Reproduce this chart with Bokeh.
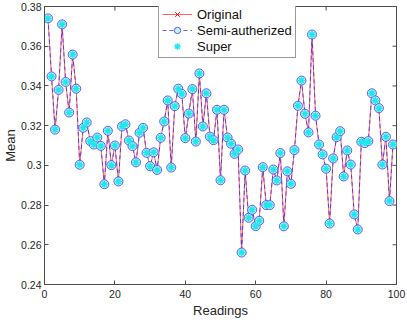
import math
from bokeh.plotting import figure
from bokeh.models import (FixedTicker, CustomJSTickFormatter, Legend, LegendItem, Range1d)
from bokeh.embed import file_html
from bokeh.resources import INLINE

readings = list(range(1, 100))

original = [0.374, 0.3448, 0.318, 0.338, 0.371, 0.342, 0.3266, 0.3558, 0.3386, 0.3003,
            0.3189, 0.3216, 0.3122, 0.3105, 0.3140, 0.3098, 0.2905, 0.3174, 0.3001, 0.3100,
            0.2919, 0.3196, 0.3207, 0.3125, 0.3097, 0.3015, 0.3164, 0.3189, 0.3063, 0.2996,
            0.3066, 0.2977, 0.3139, 0.3221, 0.3327, 0.2989, 0.3298, 0.3386, 0.3360, 0.3137,
            0.3261, 0.3384, 0.3120, 0.3463, 0.3196, 0.3363, 0.3145, 0.3127, 0.3280, 0.2925,
            0.3280, 0.3140, 0.3109, 0.3058, 0.3080, 0.2561, 0.2974, 0.2736, 0.2776, 0.2694,
            0.2721, 0.2991, 0.2800, 0.2800, 0.2979, 0.2924, 0.3062, 0.2693, 0.2970, 0.2907,
            0.3077, 0.3300, 0.3427, 0.3260, 0.3166, 0.3659, 0.3250, 0.3105, 0.3055, 0.2983,
            0.2707, 0.3035, 0.3142, 0.3172, 0.2944, 0.3075, 0.3004, 0.2753, 0.2677, 0.3119,
            0.3112, 0.3122, 0.3363, 0.3327, 0.3288, 0.3004, 0.3144, 0.2820, 0.3105]

semi_autherized = [0.374, 0.3448, 0.318, 0.338, 0.371, 0.342, 0.3266, 0.3558, 0.3386, 0.3003,
                   0.3189, 0.3216, 0.3122, 0.3105, 0.3140, 0.3098, 0.2905, 0.3174, 0.3001, 0.3100,
                   0.2919, 0.3196, 0.3207, 0.3125, 0.3097, 0.3015, 0.3164, 0.3189, 0.3063, 0.2996,
                   0.3066, 0.2977, 0.3139, 0.3221, 0.3327, 0.2989, 0.3298, 0.3386, 0.3360, 0.3137,
                   0.3261, 0.3384, 0.3120, 0.3463, 0.3196, 0.3363, 0.3145, 0.3127, 0.3280, 0.2925,
                   0.3280, 0.3140, 0.3109, 0.3058, 0.3080, 0.2561, 0.2974, 0.2736, 0.2776, 0.2694,
                   0.2721, 0.2991, 0.2800, 0.2800, 0.2979, 0.2924, 0.3062, 0.2693, 0.2970, 0.2907,
                   0.3077, 0.3300, 0.3427, 0.3260, 0.3166, 0.3659, 0.3250, 0.3105, 0.3055, 0.2983,
                   0.2707, 0.3035, 0.3142, 0.3172, 0.2944, 0.3075, 0.3004, 0.2753, 0.2677, 0.3119,
                   0.3112, 0.3122, 0.3363, 0.3327, 0.3288, 0.3004, 0.3144, 0.2820, 0.3105]

super_ = [0.374, 0.3448, 0.318, 0.338, 0.371, 0.342, 0.3266, 0.3558, 0.3386, 0.3003,
          0.3189, 0.3216, 0.3122, 0.3105, 0.3140, 0.3098, 0.2905, 0.3174, 0.3001, 0.3100,
          0.2919, 0.3196, 0.3207, 0.3125, 0.3097, 0.3015, 0.3164, 0.3189, 0.3063, 0.2996,
          0.3066, 0.2977, 0.3139, 0.3221, 0.3327, 0.2989, 0.3298, 0.3386, 0.3360, 0.3137,
          0.3261, 0.3384, 0.3120, 0.3463, 0.3196, 0.3363, 0.3145, 0.3127, 0.3280, 0.2925,
          0.3280, 0.3140, 0.3109, 0.3058, 0.3080, 0.2561, 0.2974, 0.2736, 0.2776, 0.2694,
          0.2721, 0.2991, 0.2800, 0.2800, 0.2979, 0.2924, 0.3062, 0.2693, 0.2970, 0.2907,
          0.3077, 0.3300, 0.3427, 0.3260, 0.3166, 0.3659, 0.3250, 0.3105, 0.3055, 0.2983,
          0.2707, 0.3035, 0.3142, 0.3172, 0.2944, 0.3075, 0.3004, 0.2753, 0.2677, 0.3119,
          0.3112, 0.3122, 0.3363, 0.3327, 0.3288, 0.3004, 0.3144, 0.2820, 0.3105]

x_ticks = [0, 20, 40, 60, 80, 100]
y_ticks = [0.24, 0.26, 0.28, 0.30, 0.32, 0.34, 0.36, 0.38]
series_labels = ["Original", "Semi-autherized", "Super"]

FONT = "Liberation Sans"
AX = "#4d4d4d"
TXT = "#262626"

p = figure(width=407, height=322, x_range=Range1d(x_ticks[0], x_ticks[-1]),
           y_range=Range1d(y_ticks[0], y_ticks[-1]),
           output_backend="svg", toolbar_location=None,
           min_border_left=43, min_border_right=11, min_border_top=6, min_border_bottom=38)
p.xgrid.visible = False
p.ygrid.visible = False
p.outline_line_color = AX
p.background_fill_color = "white"

fmt = CustomJSTickFormatter(code="return parseFloat(tick.toFixed(2)).toString();")

for ax in (p.xaxis[0], p.yaxis[0]):
    ax.major_tick_in = 4
    ax.major_tick_out = 0
    ax.minor_tick_in = 0
    ax.minor_tick_out = 0
    ax.axis_line_color = AX
    ax.major_tick_line_color = AX
    ax.major_label_text_font = FONT
    ax.major_label_text_font_size = "10.5px"
    ax.major_label_text_color = TXT
    ax.axis_label_text_font = FONT
    ax.axis_label_text_font_size = "13px"
    ax.axis_label_text_font_style = "normal"
    ax.axis_label_text_color = TXT

p.xaxis[0].major_label_standoff = 5
p.xaxis[0].axis_label_standoff = 2
p.yaxis[0].major_label_standoff = 3
p.yaxis[0].axis_label_standoff = 0

p.xaxis[0].ticker = FixedTicker(ticks=x_ticks)
p.yaxis[0].ticker = FixedTicker(ticks=y_ticks)
p.yaxis[0].formatter = fmt
p.xaxis[0].axis_label = "Readings"
p.yaxis[0].axis_label = "Mean"

# inward tick marks on the top and right borders (half of each dash is clipped by the frame)
p.scatter(x_ticks, [y_ticks[-1]] * len(x_ticks), marker="dash", angle=math.pi / 2,
          size=8, line_color=AX, line_width=1)
p.scatter([x_ticks[-1]] * len(y_ticks), y_ticks, marker="dash", size=8,
          line_color=AX, line_width=1)

r1l = p.line(readings, original, line_color="#ff2a2a", line_width=1, line_alpha=0.75)
r1m = p.scatter(readings, original, marker="x", size=6, line_color="#ff0000", line_width=1)
r2l = p.line(readings, semi_autherized, line_color="#2a2aff", line_width=1,
             line_dash="4 3", line_alpha=0.75)
r2m = p.scatter(readings, semi_autherized, marker="circle", size=9,
                line_color="#5a5aff", fill_color="#bff6f8", line_width=1)
r3 = p.scatter(readings, super_, marker="asterisk", size=7, line_color="#20e8e8",
               line_width=1.5)

legend = Legend(items=[LegendItem(label=series_labels[0], renderers=[r1l, r1m]),
                       LegendItem(label=series_labels[1], renderers=[r2l, r2m]),
                       LegendItem(label=series_labels[2], renderers=[r3])],
                location=(114, 226), margin=0, padding=3, spacing=0,
                glyph_width=30, glyph_height=16, label_height=16, label_standoff=5,
                label_text_font=FONT, label_text_font_size="13px", label_text_color="#111111",
                border_line_color="#333333", border_line_width=1,
                background_fill_color="white", background_fill_alpha=1)
p.add_layout(legend)

open("out.html", "w").write(file_html(p, INLINE))
